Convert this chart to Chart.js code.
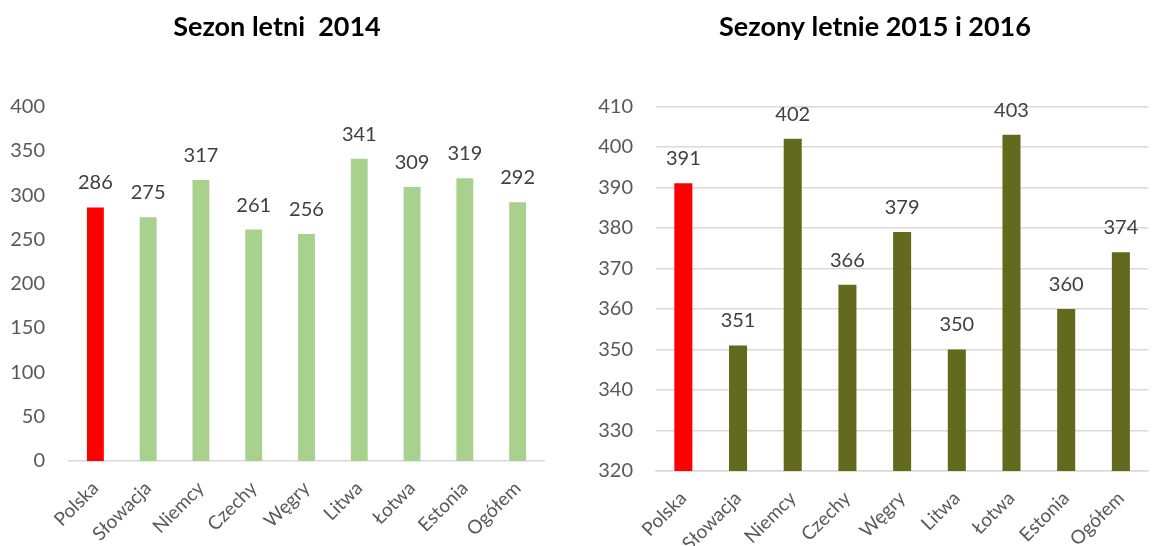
<!DOCTYPE html>
<html>
<head>
<meta charset="utf-8">
<script src="https://cdn.jsdelivr.net/npm/chart.js@4/dist/chart.umd.min.js"></script>
<style>
  html, body { margin: 0; padding: 0; background: #fff; }
  body { width: 1153px; height: 546px; position: relative; overflow: hidden; }
  canvas { position: absolute; top: 0; }
  #left { left: 0; }
  #right { left: 576px; }
</style>
</head>
<body>
<canvas id="left" width="576" height="546"></canvas>
<canvas id="right" width="577" height="546"></canvas>
<script>
const categories = ["Polska", "Słowacja", "Niemcy", "Czechy", "Węgry", "Litwa", "Łotwa", "Estonia", "Ogółem"];
const values2014 = [286, 275, 317, 261, 256, 341, 309, 319, 292];
const values20152016 = [391, 351, 402, 366, 379, 350, 403, 360, 374];
const ticks2014 = { min: 0, max: 400, step: 50 };
const ticks20152016 = { min: 320, max: 410, step: 10 };

const FONT = "Lato, 'Open Sans', sans-serif";

// wartości nad słupkami
const barValues = {
  id: "barValues",
  afterDatasetsDraw(chart) {
    const ctx = chart.ctx;
    const data = chart.data.datasets[0].data;
    ctx.save();
    ctx.font = `20px ${FONT}`;
    ctx.fillStyle = "#404040";
    ctx.textAlign = "center";
    ctx.textBaseline = "alphabetic";
    chart.getDatasetMeta(0).data.forEach((bar, i) => ctx.fillText(String(data[i]), bar.x, bar.y - 18));
    ctx.restore();
  }
};

function barColors(color) {
  return categories.map((_, i) => i === 0 ? "#FF0000" : color);
}

function createChart(id, title, values, range, color, opts) {
  return new Chart(document.getElementById(id), {
    type: "bar",
    data: {
      labels: categories,
      datasets: [{
        data: values,
        backgroundColor: barColors(color),
        borderWidth: 0,
        barPercentage: opts.barPercentage,
        categoryPercentage: 1
      }]
    },
    options: {
      responsive: false,
      animation: false,
      layout: { padding: { left: opts.left, right: opts.right, top: 0, bottom: 0 } },
      plugins: {
        legend: { display: false },
        tooltip: { enabled: false },
        title: {
          display: true,
          text: title,
          color: "#000",
          font: { family: FONT, size: 27, weight: "bold" },
          padding: { top: 11, bottom: 63 }
        }
      },
      scales: {
        x: {
          grid: { display: false, drawTicks: false },
          border: { display: true, color: "#D9D9D9", width: 1.5 },
          ticks: {
            color: "#595959",
            font: { family: FONT, size: 19 },
            minRotation: 45,
            maxRotation: 45,
            autoSkip: false,
            padding: 16
          },
          afterFit(scale) { scale.height = opts.xHeight; }
        },
        y: {
          min: range.min,
          max: range.max,
          grid: {
            display: opts.grid,
            drawTicks: false,
            color: "#D9D9D9",
            lineWidth: 1.5
          },
          border: { display: false },
          ticks: {
            stepSize: range.step,
            color: "#595959",
            font: { family: FONT, size: 20 },
            padding: opts.tickPad
          },
          afterFit(scale) { scale.width = opts.yWidth; }
        }
      }
    },
    plugins: [barValues]
  });
}

createChart("left", "Sezon letni  2014", values2014, ticks2014, "#A9D18E",
  { left: 10, right: 32, xHeight: 85, yWidth: 59, tickPad: 24, grid: false, barPercentage: 0.32 });
createChart("right", "Sezony letnie 2015 i 2016", values20152016, ticks20152016, "#636A1E",
  { left: 21, right: 0, xHeight: 75, yWidth: 59, tickPad: 23, grid: true, barPercentage: 0.33 });
</script>
</body>
</html>
